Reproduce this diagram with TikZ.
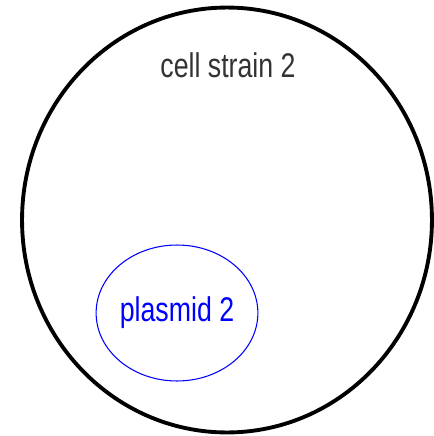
\documentclass[tikz,border=0pt]{standalone}
\usepackage{fontspec}
\setmainfont{Liberation Sans}
\newfontfamily\narrowfont[FakeStretch=0.78]{Liberation Sans}
\usetikzlibrary{shapes.geometric}
\tikzset{
  cell/.style={ellipse, draw=black, line width=2.2pt, minimum width=8.2cm, minimum height=8.5cm, inner sep=0pt},
  plasmid/.style={ellipse, draw=blue, line width=0.6pt, text=blue, minimum width=3.2cm, minimum height=2.72cm, inner sep=0pt, font=\narrowfont\fontsize{19.5}{19.5}\selectfont},
  celllabel/.style={text=black!80, font=\narrowfont\fontsize{19.5}{19.5}\selectfont}
}
\begin{document}
\begin{tikzpicture}[x=0.02cm,y=-0.02cm]
  \useasboundingbox (0,0) rectangle (433,436);
  \node[cell] (cell) at (227,220) {};
  \node[celllabel] (celltext) at (228,65) {cell strain 2};
  \node[plasmid] (plasmid) at (177,313) {plasmid 2};
\end{tikzpicture}
\end{document}
